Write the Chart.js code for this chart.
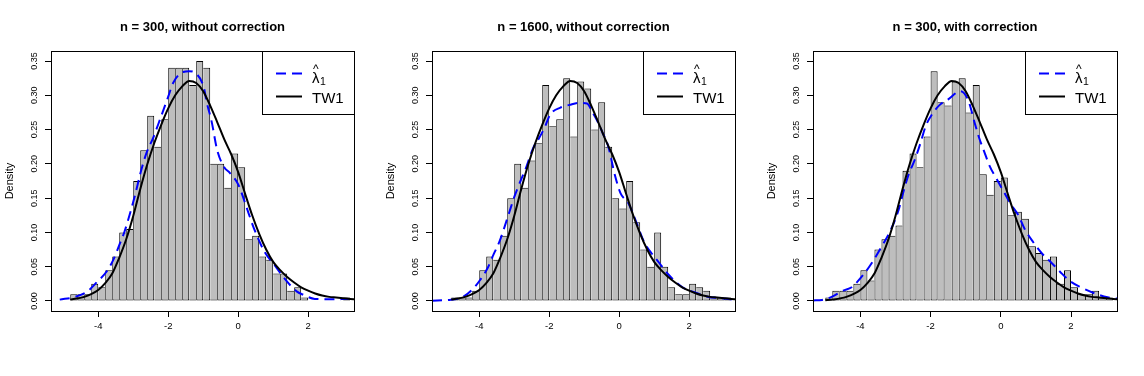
<!DOCTYPE html>
<html><head><meta charset="utf-8">
<script src="https://cdn.jsdelivr.net/npm/chart.js@4.4.1/dist/chart.umd.min.js"></script>
<style>
html,body{margin:0;padding:0;background:#fff;}
#wrap{position:relative;width:1144px;height:376px;overflow:hidden;background:#fff;}
canvas{position:absolute;top:0;}
</style></head><body>
<div id="wrap">
<canvas id="c1" width="381" height="376" style="left:0px"></canvas>
<canvas id="c2" width="381" height="376" style="left:381px"></canvas>
<canvas id="c3" width="382" height="376" style="left:762px"></canvas>
</div>
<script>
// ---------- data ----------
const titles = ["n = 300, without correction", "n = 1600, without correction", "n = 300, with correction"];
const binWidth = 0.2;

const p1FirstBreak = -4.8;
const p1Density = [0.01,0.01,0.01,0.025,0.02,0.045,0.065,0.1,0.105,0.175,
  0.22,0.27,0.225,0.265,0.34,0.34,0.34,0.315,0.35,0.34,
  0.2,0.2,0.165,0.215,0.195,0.09,0.095,0.065,0.06,0.04,
  0.04,0.015,0.02,0.005,0,0,0,0,0,0.005];

const p2FirstBreak = -4.8;
const p2Density = [0.005,0.005,0.005,0.015,0.045,0.065,0.06,0.095,0.15,0.2,
  0.165,0.205,0.23,0.315,0.255,0.265,0.325,0.24,0.32,0.31,
  0.25,0.29,0.225,0.15,0.135,0.175,0.115,0.075,0.05,0.1,
  0.05,0.02,0.01,0.01,0.025,0.02,0.015,0.005,0.005,0.005];

const p3FirstBreak = -5.0;
const p3Density = [0.005,0.015,0.015,0.015,0.025,0.045,0.03,0.075,0.09,0.095,
  0.11,0.19,0.215,0.195,0.24,0.335,0.29,0.285,0.32,0.325,
  0.275,0.315,0.185,0.155,0.175,0.18,0.125,0.13,0.12,0.08,
  0.07,0.06,0.065,0.025,0.045,0.02,0.01,0.01,0.015,0.005,0.005];

// Tracy-Widom (TW1) density curve
const tw1X = [-5.0,-4.8,-4.4,-4.0,-3.8,-3.6,-3.4,-3.2,-3.0,-2.8,-2.6,-2.4,-2.2,-2.0,-1.8,-1.6,-1.4,-1.2,-1.0,-0.8,
  -0.6,-0.4,-0.2,0,0.2,0.4,0.6,0.8,1.0,1.2,1.4,1.6,1.8,2.0,2.2,2.4,2.6,2.8,3.0,3.2,3.4];
const tw1Y = [0.0012,0.002,0.006,0.016,0.026,0.040,0.063,0.090,0.124,0.163,0.199,0.230,0.257,0.281,0.300,0.313,0.321,0.318,0.306,0.285,
  0.261,0.236,0.214,0.188,0.156,0.125,0.098,0.075,0.057,0.045,0.035,0.027,0.020,0.015,0.011,0.008,0.006,0.005,0.004,0.003,0.002];

// lambda-hat_1 kernel density curves
const p1LamX = [-5.10,-4.66,-4.31,-4.03,-3.76,-3.57,-3.38,-3.25,-3.09,-2.95,-2.77,-2.62,-2.43,-2.29,-2.0,-1.86,-1.57,-1.4,-1.21,-0.98,
  -0.9,-0.76,-0.6,-0.4,-0.24,0.0,0.29,0.45,0.75,1.03,1.29,1.67,1.86,2.19,2.7,3.2,3.4];
const p1LamY = [0.002,0.006,0.014,0.028,0.043,0.060,0.084,0.101,0.128,0.154,0.191,0.216,0.238,0.257,0.298,0.318,0.334,0.335,0.332,0.311,
  0.29,0.262,0.22,0.195,0.187,0.17,0.129,0.106,0.072,0.053,0.035,0.014,0.009,0.003,0.0025,0.003,0.003];

const p2LamX = [-5.35,-4.90,-4.50,-4.19,-3.97,-3.76,-3.59,-3.42,-3.29,-3.15,-2.99,-2.82,-2.65,-2.46,-2.32,-2.14,-1.97,-1.68,-1.42,-1.16,
  -0.92,-0.76,-0.62,-0.48,-0.31,-0.12,0.04,0.26,0.42,0.73,0.89,1.13,1.40,1.78,2.15,2.53,2.91,3.2,3.4];
const p2LamY = [0.0005,0.0015,0.005,0.017,0.031,0.048,0.068,0.087,0.106,0.128,0.153,0.175,0.196,0.223,0.235,0.252,0.272,0.282,0.286,0.289,
  0.288,0.275,0.262,0.246,0.225,0.183,0.157,0.143,0.124,0.084,0.072,0.0565,0.039,0.021,0.0127,0.0063,0.004,0.0024,0.002];

const p3LamX = [-5.35,-5.09,-4.82,-4.49,-4.25,-3.92,-3.68,-3.40,-3.16,-2.91,-2.76,-2.63,-2.45,-2.29,-2.14,-1.96,-1.74,-1.50,-1.15,-0.93,
  -0.74,-0.63,-0.46,-0.31,-0.12,0.09,0.30,0.49,0.68,0.92,1.16,1.40,1.68,1.97,2.28,2.63,3.04,3.4];
const p3LamY = [0.0008,0.0015,0.006,0.015,0.02,0.038,0.055,0.079,0.101,0.133,0.162,0.184,0.206,0.230,0.255,0.272,0.286,0.294,0.306,0.293,
  0.259,0.24,0.216,0.196,0.178,0.159,0.14,0.126,0.105,0.086,0.07,0.058,0.043,0.029,0.02,0.012,0.0054,0.003];

const xTicks = [-4,-2,0,2];
const xTickLabels = ["-4","-2","0","2"];
const yTicks = [0,0.05,0.10,0.15,0.20,0.25,0.30,0.35];
const yTickLabels = ["0.00","0.05","0.10","0.15","0.20","0.25","0.30","0.35"];
const xRange = [-5.35, 3.31];
const yRange = [-0.0146, 0.3646];
const legendLabels = ["λ", "TW1"];

// ---------- drawing ----------
const FONT = "'Liberation Sans', Arial, Helvetica, sans-serif";

const decor = {
  id: 'decor',
  afterDraw(chart) {
    const {ctx, chartArea: a, scales} = chart;
    ctx.save();
    // plot box
    ctx.strokeStyle = '#000'; ctx.lineWidth = 1; ctx.setLineDash([]);
    ctx.strokeRect(a.left + 0.5, a.top + 0.5, a.right - a.left, a.bottom - a.top);
    // rotated y tick labels (R style)
    ctx.fillStyle = '#000';
    ctx.font = "9px " + FONT;
    ctx.textAlign = 'center'; ctx.textBaseline = 'middle';
    yTicks.forEach((v, i) => {
      const y = scales.y.getPixelForValue(v);
      ctx.save(); ctx.translate(a.left - 16.5, y); ctx.rotate(-Math.PI / 2);
      ctx.fillText(yTickLabels[i], 0, 0); ctx.restore();
    });
    // legend
    const w = 92, h = 63;
    const x0 = a.right - w, y0 = a.top;
    ctx.fillStyle = '#fff'; ctx.fillRect(x0, y0, w, h);
    ctx.strokeStyle = '#000'; ctx.lineWidth = 1;
    ctx.strokeRect(x0 + 0.5, y0 + 0.5, w, h);
    ctx.lineWidth = 2; ctx.lineCap = 'butt';
    ctx.strokeStyle = '#0000FF'; ctx.setLineDash([10, 6]);
    ctx.beginPath(); ctx.moveTo(x0 + 14, y0 + 22.5); ctx.lineTo(x0 + 40, y0 + 22.5); ctx.stroke();
    ctx.setLineDash([]); ctx.strokeStyle = '#000';
    ctx.beginPath(); ctx.moveTo(x0 + 14, y0 + 45.5); ctx.lineTo(x0 + 40, y0 + 45.5); ctx.stroke();
    ctx.fillStyle = '#000'; ctx.textAlign = 'left'; ctx.textBaseline = 'alphabetic';
    ctx.font = "15px " + FONT;
    const tx = x0 + 50;
    ctx.fillText(legendLabels[0], tx, y0 + 32);
    const lw = ctx.measureText(legendLabels[0]).width;
    ctx.font = "10.5px " + FONT;
    ctx.fillText("1", tx + lw + 0.5, y0 + 34);
    ctx.font = "12px " + FONT; ctx.textAlign = 'center';
    ctx.fillText("^", tx + lw / 2, y0 + 21.5);
    ctx.textAlign = 'left';
    ctx.font = "15px " + FONT;
    ctx.fillText(legendLabels[1], tx, y0 + 52.3);
    ctx.restore();
  }
};

function makeChart(id, title, firstBreak, dens, lamX, lamY) {
  const barData = dens.map((d, k) => ({x: firstBreak + binWidth * (k + 0.5), y: d}));
  const lamData = lamX.map((x, j) => ({x: x, y: lamY[j]}));
  const twData = tw1X.map((x, j) => ({x: x, y: tw1Y[j]})).filter(p => p.x >= firstBreak - 1e-9);
  const bw = (c) => {
    if (c.type !== 'data') return 1;
    const k = c.dataIndex, hgt = dens[k];
    const p = k > 0 ? dens[k - 1] : 0;
    const n = k < dens.length - 1 ? dens[k + 1] : 0;
    return {top: 1, bottom: 1, left: p <= hgt ? 1 : 0, right: n < hgt ? 1 : 0};
  };
  new Chart(document.getElementById(id), {
    type: 'bar',
    data: {
      datasets: [
        {type: 'line', data: twData, borderColor: '#000', borderWidth: 2, pointRadius: 0,
         fill: false, cubicInterpolationMode: 'monotone', order: 1},
        {type: 'line', data: lamData, borderColor: '#0000FF', borderWidth: 2, borderDash: [10, 6],
         pointRadius: 0, fill: false, cubicInterpolationMode: 'monotone', order: 2},
        {type: 'bar', data: barData, backgroundColor: '#BEBEBE', borderColor: '#000',
         borderWidth: bw, borderSkipped: false, barPercentage: 1, categoryPercentage: 1,
         inflateAmount: 0, order: 3}
      ]
    },
    options: {
      responsive: false, animation: false, devicePixelRatio: 1,
      layout: {padding: {left: 0, right: 27, top: 0, bottom: 0}},
      plugins: {
        legend: {display: false}, tooltip: {enabled: false},
        title: {display: true, text: title, fullSize: false, color: '#000',
          font: {family: FONT, size: 13, weight: 'bold', lineHeight: 1.2},
          padding: {top: 20, bottom: 15.4}}
      },
      scales: {
        x: {
          type: 'linear', min: xRange[0], max: xRange[1], offset: false,
          afterBuildTicks: s => { s.ticks = xTicks.map(v => ({value: v})); },
          afterFit: s => { s.height = 65; },
          ticks: {color: '#000', font: {family: FONT, size: 9.5}, padding: 4, maxRotation: 0, autoSkip: false,
            callback: (v, i) => xTickLabels[i]},
          grid: {display: true, offset: false, drawOnChartArea: false, drawTicks: true, tickLength: 6, tickColor: '#000', color: '#000'},
          border: {display: false}
        },
        y: {
          type: 'linear', min: yRange[0], max: yRange[1],
          afterBuildTicks: s => { s.ticks = yTicks.map(v => ({value: v})); },
          afterFit: s => { s.width = 51; },
          ticks: {display: false},
          grid: {display: true, offset: false, drawOnChartArea: false, drawTicks: true, tickLength: 6, tickColor: '#000', color: '#000'},
          border: {display: false},
          title: {display: true, text: 'Density', color: '#000', font: {family: FONT, size: 11}, padding: {top: 3, bottom: 0}}
        }
      }
    },
    plugins: [decor]
  });
}

makeChart('c1', titles[0], p1FirstBreak, p1Density, p1LamX, p1LamY);
makeChart('c2', titles[1], p2FirstBreak, p2Density, p2LamX, p2LamY);
makeChart('c3', titles[2], p3FirstBreak, p3Density, p3LamX, p3LamY);
</script>
</body></html>
